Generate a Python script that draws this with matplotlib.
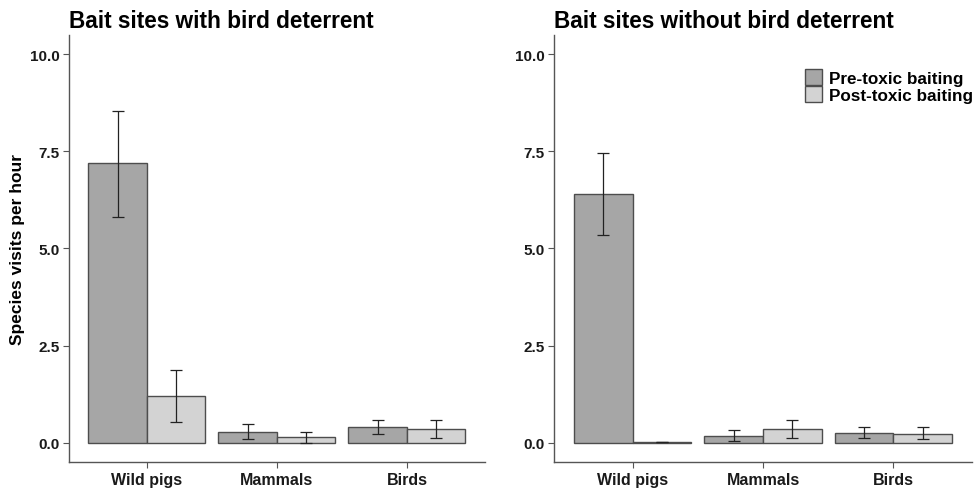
import numpy as np
import matplotlib
matplotlib.use("Agg")
import matplotlib.pyplot as plt

plt.rcParams['font.family'] = ['Liberation Sans', 'DejaVu Sans']
plt.rcParams['font.weight'] = 'bold'

# Data
categories = ["Wild pigs", "Mammals", "Birds"]
groups = ["Pre-toxic baiting", "Post-toxic baiting"]

with_pre = [7.19, 0.27, 0.40]
with_pre_lo = [5.82, 0.08, 0.23]
with_pre_hi = [8.53, 0.48, 0.58]
with_post = [1.20, 0.14, 0.35]
with_post_lo = [0.52, 0.00, 0.12]
with_post_hi = [1.86, 0.27, 0.58]

without_pre = [6.41, 0.16, 0.25]
without_pre_lo = [5.35, 0.03, 0.12]
without_pre_hi = [7.47, 0.33, 0.40]
without_post = [0.01, 0.35, 0.22]
without_post_lo = [0.01, 0.12, 0.08]
without_post_hi = [0.01, 0.58, 0.40]

titles = ["Bait sites with bird deterrent", "Bait sites without bird deterrent"]
colors = ["#a6a6a6", "#d3d3d3"]
edge = "#4d4d4d"

fig = plt.figure(figsize=(9.77, 4.89), dpi=100)
ax1 = fig.add_axes([0.0706, 0.0532, 0.4258, 0.8732])
ax2 = fig.add_axes([0.5674, 0.0532, 0.4272, 0.8732])

panels = [
    (ax1, [(with_pre, with_pre_lo, with_pre_hi), (with_post, with_post_lo, with_post_hi)]),
    (ax2, [(without_pre, without_pre_lo, without_pre_hi), (without_post, without_post_lo, without_post_hi)]),
]

x = np.arange(len(categories))
w = 0.45
for i, (ax, series) in enumerate(panels):
    for j, (vals, lo, hi) in enumerate(series):
        pos = x + (j - 0.5) * w
        vals = np.array(vals)
        yerr = [vals - np.array(lo), np.array(hi) - vals]
        ax.bar(pos, vals, width=w, color=colors[j], edgecolor=edge, linewidth=1.0,
               label=groups[j], zorder=2)
        ax.errorbar(pos, vals, yerr=yerr, fmt='none', ecolor='#222222', elinewidth=0.9,
                    capsize=4.5, capthick=0.9, zorder=3)
    ax.set_xlim(-0.6, 2.6)
    ax.set_ylim(-0.5, 10.5)
    ax.set_xticks(x)
    ax.set_xticklabels(categories, fontsize=11.5, fontweight='bold', color='#1a1a1a')
    ax.set_yticks([0, 2.5, 5.0, 7.5, 10.0])
    ax.set_yticklabels(["0.0", "2.5", "5.0", "7.5", "10.0"], fontsize=11,
                       fontweight='bold', color='#1a1a1a')
    ax.tick_params(axis='both', length=4, width=0.8, color='#555555', pad=3)
    for s in ['top', 'right']:
        ax.spines[s].set_visible(False)
    for s in ['left', 'bottom']:
        ax.spines[s].set_color('#555555')
        ax.spines[s].set_linewidth(1.0)
    ax.set_title(titles[i], loc='left', fontsize=16.3, fontweight='bold', pad=6, x=0.0)

ax1.set_ylabel("Species visits per hour", fontsize=12.5, fontweight='bold', labelpad=3)

leg = ax2.legend(loc='upper right', bbox_to_anchor=(1.003, 0.92), frameon=False,
                 fontsize=12.3, handlelength=1.0, handleheight=1.05,
                 handletextpad=0.4, labelspacing=0.0, borderaxespad=0, borderpad=0)
for t in leg.get_texts():
    t.set_fontweight('bold')

fig.savefig("out.png", dpi=100)
